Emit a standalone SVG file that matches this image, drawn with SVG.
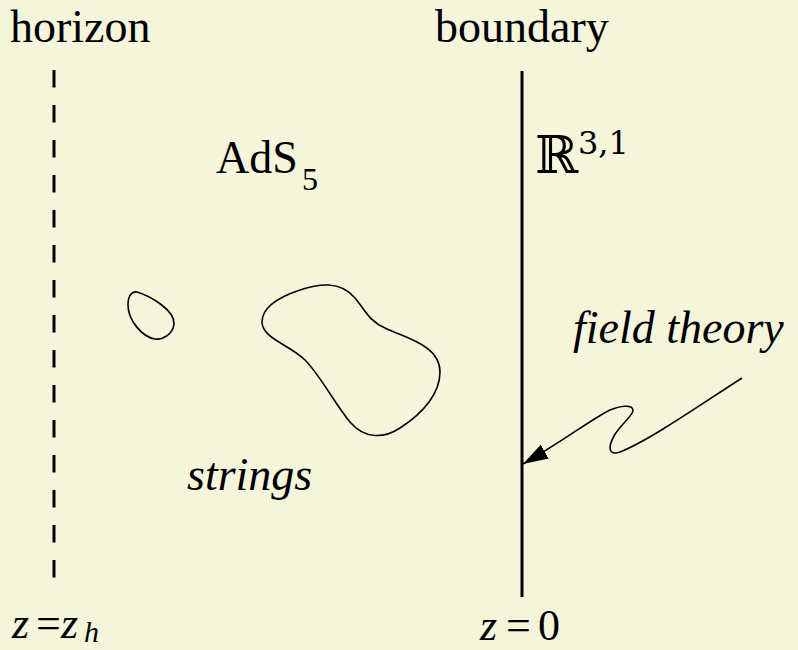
<svg xmlns="http://www.w3.org/2000/svg" width="798" height="650" viewBox="0 0 798 650">
<style>
.t{font-family:"Liberation Serif","Times New Roman",serif;fill:#000}
.it{font-style:italic}
.m{font-family:"DejaVu Serif",serif;fill:#000}
.curve{fill:none;stroke:#000;stroke-width:1.6;stroke-linejoin:round}
</style>
<defs>
<marker id="ah" markerUnits="userSpaceOnUse" markerWidth="28" markerHeight="18" refX="25" refY="8" orient="auto" viewBox="0 0 28 18">
<path d="M0,0 L25,8 L0,16 Z" fill="#000"/>
</marker>
</defs>
<rect width="798" height="650" fill="#f5f5dc"/>
<g id="horizon">
<line x1="54" y1="70" x2="54" y2="580" stroke="#000" stroke-width="3" stroke-dasharray="17.5 17.5"/>
<text class="t" x="10" y="42" font-size="46">horizon</text>
<text x="12" y="638" font-size="44"><tspan class="t it">z</tspan><tspan class="t" x="36">=</tspan><tspan class="t it" x="61">z</tspan><tspan class="t it" x="84" y="642" font-size="30">h</tspan></text>
</g>
<g id="boundary">
<line x1="522" y1="71" x2="522" y2="597" stroke="#000" stroke-width="3"/>
<text class="t" x="435" y="42" font-size="46">boundary</text>
<text class="m" x="535" y="173" font-size="52">ℝ</text>
<text class="m" x="578" y="154" font-size="32">3,1</text>
<text x="480" y="640" font-size="44"><tspan class="t it">z</tspan><tspan class="t" x="506">=</tspan><tspan class="t" x="538">0</tspan></text>
</g>
<g id="bulk">
<text class="t" x="216" y="173" font-size="46">AdS</text>
<text class="t" x="302" y="190" font-size="32">5</text>
<text class="t it" x="187" y="490" font-size="46">strings</text>
<path class="curve" d="M137,292 C150,296 175,310 174,324 C173,334 163,340 155,339 C142,337 128,320 128,305 C128,297 131,291 137,292 Z"/>
<path class="curve" d="M262,322 C262,306 282,296 300,290 C318,284 340,280 355,298 C365,310 370,322 385,328 C405,338 440,345 440,372 C440,392 425,412 400,428 C385,438 365,440 350,422 C335,404 320,375 305,360 C290,345 262,338 262,322 Z"/>
</g>
<g id="field-theory">
<text class="t it" x="573" y="343" font-size="46">field theory</text>
</g>
<g id="connectors">
<path class="curve" marker-end="url(#ah)" d="M742,378 C700,405 650,440 620,452 C608,456 608,447 614,436 C620,425 634,415 633,410 C632,404 620,406 610,410 C590,420 565,440 523,464"/>
</g>
</svg>
